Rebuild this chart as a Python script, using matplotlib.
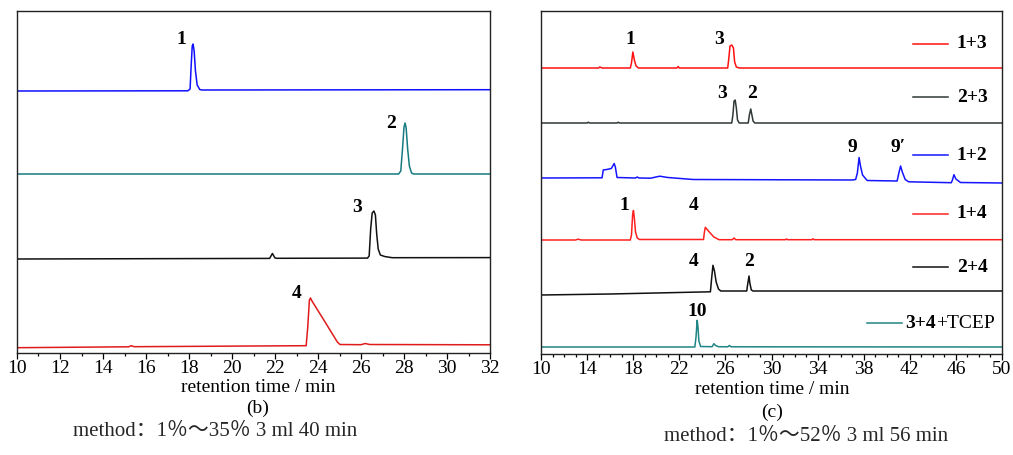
import matplotlib
matplotlib.use('Agg')
import matplotlib.pyplot as plt
from matplotlib.ticker import MultipleLocator

plt.rcParams['font.family'] = ['Liberation Serif', 'DejaVu Serif']

# ---------------- data: panel (b) ----------------
b_t1 = [10, 17.95, 18.05, 18.10, 18.15, 18.19, 18.24, 18.30, 18.38, 18.50, 18.60, 32]
b_s1 = [0, 0.2, 2, 25, 45, 47, 40, 20, 6, 1.5, 1, 1.3]
b_t2 = [10, 27.75, 27.85, 27.93, 28.00, 28.05, 28.10, 28.17, 28.25, 28.35, 28.45, 32]
b_s2 = [0, 0, 3, 25, 47, 51, 46, 25, 8, 1, 0, 0]
b_t3 = [10, 21.75, 21.88, 22.0, 22.1, 26.30, 26.38, 26.45, 26.52, 26.60, 26.67, 26.73, 26.80, 26.90, 27.10, 27.45, 32]
b_s3 = [0, 0.6, 5.5, 1, 0.7, 0.9, 3, 30, 46, 48, 44, 25, 10, 4, 2.5, 1.3, 1.4]
b_t4 = [10, 15.2, 15.3, 15.45, 23.45, 23.52, 23.60, 23.65, 23.72, 24.3, 24.9, 25.02, 26.0, 26.2, 26.4, 32]
b_s4 = [0.3, 1.2, 2.3, 1.3, 2.3, 20, 48, 50, 47, 27, 6, 3.5, 3.3, 4.5, 3.5, 3.2]
b_names = ['1', '2', '3', '4']
b_colors = ['#1010ff', '#157a80', '#111111', '#e01b1b']

# ---------------- data: panel (c) ----------------
c_labels = ['1+3', '2+3', '1+2', '1+4', '2+4', '3+4+TCEP']
c_colors = ['#ff1010', '#303838', '#1515ff', '#ff2020', '#111111', '#1f8585']
c_t1 = [10, 15.0, 15.1, 15.3, 17.75, 17.85, 17.97, 18.10, 18.25, 18.45, 21.8, 21.9, 22.0,
        26.2, 26.3, 26.4, 26.55, 26.7, 26.8, 26.95, 27.2, 50]
c_s1 = [0, 0, 1, 0, 0, 5, 16, 8, 2, 0, 0, 1.5, 0, 0, 10, 22, 23, 20, 6, 1, 0, 0]
c_t2 = [10, 14.0, 14.1, 14.2, 16.6, 16.7, 16.8, 26.55, 26.65, 26.75, 26.85, 26.95, 27.05, 27.2,
        27.98, 28.08, 28.20, 28.30, 28.40, 28.55, 50]
c_s2 = [0, 0, 0.8, 0, 0, 0.8, 0, 0, 8, 22, 23, 15, 3, 0, 0, 8, 14, 8, 2, 0, 0]
c_t3 = [10, 15.3, 15.4, 15.7, 16.1, 16.35, 16.45, 16.6, 18.2, 18.35, 18.5, 19.5, 20.3, 21.0, 23.2,
        37.0, 37.3, 37.45, 37.6, 37.72, 37.9, 38.3, 40.9, 41.05, 41.2, 41.35, 41.6, 41.9,
        45.6, 45.7, 45.83, 46.0, 46.4, 50]
c_s3 = [0, 0.2, 8, 8.5, 9.5, 14.5, 11, 0.5, 0, 1, 0, -0.2, 1.8, 0.5, -1.5,
        -2, -1.5, 5, 20.5, 12, 3, -2.5, -3, 5, 12, 6, -1.5, -3.8,
        -4.7, -2, 3.3, -1, -4.5, -5]
c_t4 = [10, 13.0, 13.2, 13.5, 17.75, 17.85, 17.95, 18.02, 18.10, 18.20, 18.35, 18.55,
        24.1, 24.18, 24.26, 24.6, 25.0, 25.45, 26.6, 26.75, 26.9, 31.2, 31.3, 31.4, 33.5, 33.6, 33.7, 50]
c_s4 = [0, 0, 0.8, 0, 0, 5, 25, 29.5, 22, 8, 2, 0.5,
        0.5, 8, 12.7, 8, 3, 0.3, 0.3, 2, 0.3, 0.3, 1, 0.3, 0.3, 1.2, 0.3, 0.3]
c_t5 = [10, 16, 22.7, 24.7, 24.8, 24.92, 25.05, 25.2, 25.4, 25.6, 27.85, 27.95, 28.05, 28.12, 28.25, 28.4, 50]
c_s5 = [-4, -3, -1.3, -0.8, 12, 25.7, 20, 9, 2, 0, 0, 8, 15, 8, 1, 0, 0]
c_t6 = [10, 23.35, 23.45, 23.55, 23.62, 23.70, 23.85, 24.85, 25.0, 25.15, 25.4, 26.2, 26.35, 26.5, 50]
c_s6 = [0, 0, 10, 26.7, 20, 6, 0.5, 0.3, 3.3, 1.5, 0.3, 0.2, 1.5, 0.2, 0]

b_x = [b_t1, b_t2, b_t3, b_t4]
b_y = [b_s1, b_s2, b_s3, b_s4]
c_x = [c_t1, c_t2, c_t3, c_t4, c_t5, c_t6]
c_y = [c_s1, c_s2, c_s3, c_s4, c_s5, c_s6]

b_ticks = list(range(10, 33, 2))
c_ticks = list(range(10, 51, 4))

# ---------------- layout ----------------
W, H = 1013, 455
fig = plt.figure(figsize=(W / 100, H / 100), dpi=100)
axL = fig.add_axes([17 / W, 1 - 353 / H, 473 / W, 342 / H])
axR = fig.add_axes([541 / W, 1 - 354 / H, 461 / W, 343 / H])

b_offsets = [262, 179, 94, 5]
for xs, ys, off, col in zip(b_x, b_y, b_offsets, b_colors):
    axL.plot(xs, [v + off for v in ys], color=col, lw=1.1)
axL.set_xlim(10, 32)
axL.set_ylim(0, 342)

c_offsets = [286, 231, 176, 114, 63, 7]
for xs, ys, off, col in zip(c_x, c_y, c_offsets, c_colors):
    axR.plot(xs, [v + off for v in ys], color=col, lw=1.1)
axR.set_xlim(10, 50)
axR.set_ylim(0, 343)

for ax in (axL, axR):
    ax.set_yticks([])
    for s in ax.spines.values():
        s.set_linewidth(1.0)
        s.set_color('#222222')
    ax.tick_params(axis='x', which='major', direction='out', length=4.5, width=0.9,
                   labelsize=14, pad=0.5)
    ax.tick_params(axis='x', which='minor', direction='out', length=2.5, width=0.9)

axL.set_xticks(b_ticks)
axL.xaxis.set_minor_locator(MultipleLocator(1))
axR.set_xticks(c_ticks)
axR.xaxis.set_minor_locator(MultipleLocator(1))

# peak labels
bold = dict(fontsize=14, fontweight='bold', ha='center', va='center')
for (x, y, s) in [(17.63, 313, '1'), (27.40, 229, '2'), (25.81, 146, '3'), (23.02, 60, '4')]:
    axL.text(x, y, s, **bold)
for (x, y, s) in [(17.72, 314, '1'), (25.44, 314, '3'), (25.70, 260, '3'), (28.31, 260, '2'),
                  (36.98, 207, '9'), (40.98, 207, '9\u2032'), (17.2, 149, '1'), (23.28, 149, '4'),
                  (23.28, 92, '4'), (28.05, 92, '2'), (23.54, 42, '10')]:
    axR.text(x, y, s, **bold)

# legend entries
leg_y = [310, 257, 199, 140, 87, 31]
for i, (lab, col, y) in enumerate(zip(c_labels, c_colors, leg_y)):
    if lab == '3+4+TCEP':
        axR.plot([0.707, 0.783], [y, y], color=col, lw=1.1,
                 transform=axR.get_yaxis_transform())
        t1 = axR.text(0.790, y, '3+4', fontsize=14, fontweight='bold', va='center',
                      ha='left', transform=axR.get_yaxis_transform())
        axR.annotate('+TCEP', xy=(1, 0), xycoords=t1, fontsize=14, va='bottom', ha='left')
    else:
        axR.plot([0.807, 0.883], [y, y], color=col, lw=1.1,
                 transform=axR.get_yaxis_transform())
        axR.text(0.902, y, lab, fontsize=14, fontweight='bold', va='center', ha='left',
                 transform=axR.get_yaxis_transform())

# texts below
def ftext(px, py, s, **kw):
    fig.text(px / W, 1 - py / H, s, ha='center', va='center', **kw)

ftext(258, 388, 'retention time / min', fontsize=14)
ftext(258, 408, '(b)', fontsize=14)
ftext(772, 390, 'retention time / min', fontsize=14)
ftext(772, 412, '(c)', fontsize=14)
cjk = ['Liberation Serif', 'Noto Sans CJK SC']
ftext(215, 431, 'method\uff1a1\uff05\uff5e35\uff05 3 ml 40 min', fontsize=15, family=cjk, color='#262626')
ftext(806, 436, 'method\uff1a1\uff05\uff5e52\uff05 3 ml 56 min', fontsize=15, family=cjk, color='#262626')

fig.savefig('out.png', dpi=100)
